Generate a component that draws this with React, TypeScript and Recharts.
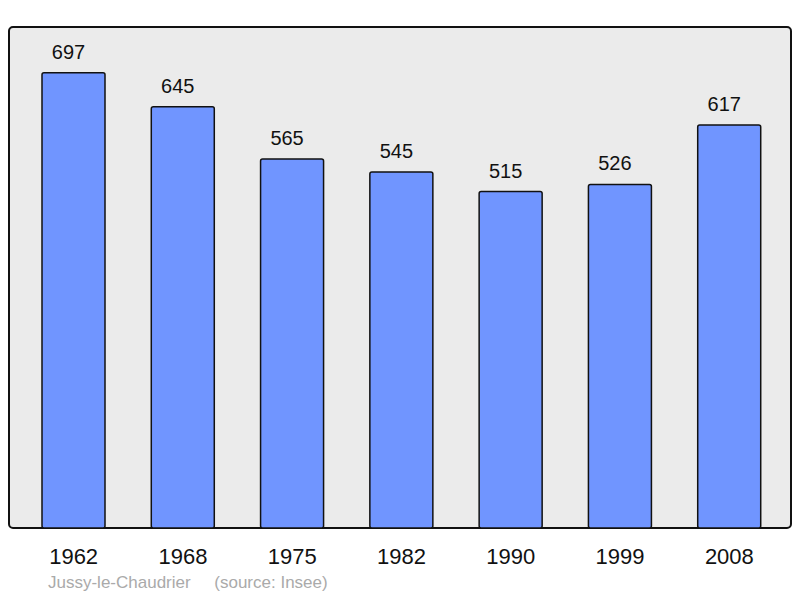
import { BarChart, Bar, XAxis, YAxis, LabelList } from 'recharts';

const years = ['1962', '1968', '1975', '1982', '1990', '1999', '2008'];
const population = [697, 645, 565, 545, 515, 526, 617];
const commune = 'Jussy-le-Chaudrier';
const source = '(source: Insee)';

const data = years.map((year, i) => ({ year, value: population[i] }));

const FONT = '"Liberation Sans", Arial, sans-serif';

export default function App() {
  return (
    <div
      style={{
        position: 'absolute',
        left: 0,
        top: 0,
        width: 800,
        height: 598,
        background: '#fff',
        fontFamily: FONT,
      }}
    >
      {/* plot frame */}
      <div
        style={{
          position: 'absolute',
          left: 8,
          top: 26,
          width: 780,
          height: 499,
          background: '#ebebeb',
          border: '2px solid #111',
          borderRadius: 5,
        }}
      />
      <div style={{ position: 'absolute', left: 0, top: 0 }}>
        <BarChart
          width={800}
          height={598}
          data={data}
          margin={{ top: 27, right: 9, bottom: 30, left: 9 }}
          barSize={63}
        >
          <YAxis hide domain={[0, 767]} />
          <XAxis
            dataKey="year"
            height={40}
            axisLine={false}
            tickLine={false}
            padding={{ left: 10, right: 7 }}
            tick={{ fill: '#111', fontSize: 22, fontFamily: FONT }}
            tickMargin={14}
          />
          <Bar
            dataKey="value"
            fill="#7095ff"
            stroke="#111"
            strokeWidth={1.5}
            radius={2}
            isAnimationActive={false}
          >
            <LabelList
              dataKey="value"
              position="top"
              offset={14}
              dx={-5}
              style={{ fill: '#111', fontSize: 20, fontFamily: FONT }}
            />
          </Bar>
        </BarChart>
      </div>
      <div
        style={{
          position: 'absolute',
          left: 48,
          top: 573,
          fontSize: 17,
          color: '#aaa',
          whiteSpace: 'pre',
        }}
      >
        {commune + '     ' + source}
      </div>
    </div>
  );
}
